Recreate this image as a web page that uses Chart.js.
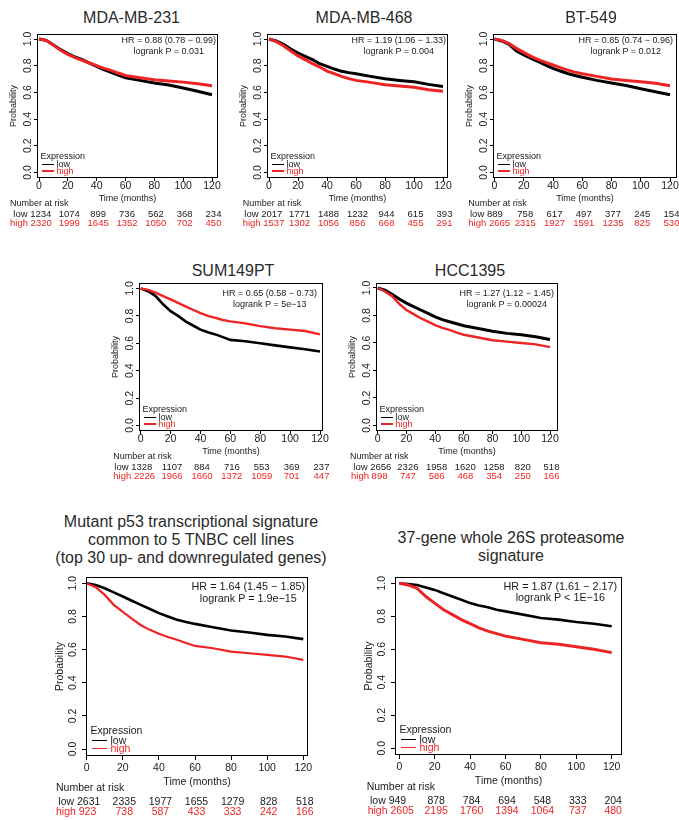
<!DOCTYPE html>
<html>
<head>
<meta charset="utf-8">
<script src="https://cdn.jsdelivr.net/npm/chart.js@4.4.0/dist/chart.umd.min.js"></script>
<style>
    body { margin: 0; background: #fff; }
    #fig { position: relative; width: 679px; height: 820px; overflow: hidden; font-family: "Liberation Sans", Arial, sans-serif; color: #1a1a1a; }
    #fig canvas { position: absolute; }
    .t { position: absolute; white-space: pre; }
    .hr { position: absolute; white-space: nowrap; text-align: center; transform: translateX(-100%); }
    .seg { position: absolute; }
</style>
</head>
<body>
<div id="fig"></div>
<script>
// 時間點 (月) 與刻度
const months = [0, 5, 10, 15, 20, 25, 30, 35, 40, 45, 50, 55, 60, 70, 80, 90, 100, 110, 120];
const xTicks = [0, 20, 40, 60, 80, 100, 120];
const yTicks = [0, 0.2, 0.4, 0.6, 0.8, 1.0];

// 存活曲線
const mda231Low  = [1.0, 0.99, 0.955, 0.92, 0.89, 0.865, 0.845, 0.82, 0.795, 0.77, 0.75, 0.73, 0.71, 0.69, 0.67, 0.655, 0.633, 0.608, 0.583];
const mda231High = [1.0, 0.99, 0.955, 0.915, 0.885, 0.86, 0.84, 0.82, 0.80, 0.78, 0.765, 0.745, 0.727, 0.71, 0.695, 0.685, 0.677, 0.665, 0.65];
const mda468Low  = [1.0, 0.985, 0.96, 0.925, 0.895, 0.87, 0.845, 0.815, 0.795, 0.775, 0.758, 0.748, 0.74, 0.72, 0.702, 0.69, 0.68, 0.66, 0.645];
const mda468High = [1.0, 0.98, 0.95, 0.91, 0.873, 0.845, 0.815, 0.79, 0.76, 0.74, 0.72, 0.703, 0.69, 0.675, 0.658, 0.648, 0.638, 0.62, 0.608];
const bt549Low   = [1.0, 0.985, 0.96, 0.91, 0.88, 0.855, 0.83, 0.805, 0.78, 0.76, 0.742, 0.727, 0.713, 0.69, 0.67, 0.652, 0.627, 0.605, 0.583];
const bt549High  = [1.0, 0.99, 0.965, 0.93, 0.90, 0.87, 0.845, 0.825, 0.805, 0.785, 0.767, 0.752, 0.74, 0.72, 0.70, 0.69, 0.68, 0.668, 0.65];
const sum149Low  = [1.0, 0.98, 0.945, 0.885, 0.835, 0.80, 0.76, 0.73, 0.70, 0.68, 0.665, 0.645, 0.625, 0.615, 0.60, 0.585, 0.57, 0.557, 0.54];
const sum149High = [1.0, 0.99, 0.97, 0.945, 0.92, 0.895, 0.87, 0.845, 0.82, 0.80, 0.785, 0.77, 0.76, 0.745, 0.725, 0.71, 0.70, 0.69, 0.665];
const hcc1395Low  = [1.0, 0.985, 0.955, 0.92, 0.89, 0.865, 0.84, 0.815, 0.79, 0.77, 0.755, 0.74, 0.725, 0.705, 0.685, 0.67, 0.66, 0.645, 0.625];
const hcc1395High = [1.0, 0.975, 0.94, 0.885, 0.84, 0.81, 0.78, 0.755, 0.73, 0.71, 0.695, 0.675, 0.66, 0.64, 0.62, 0.61, 0.60, 0.59, 0.57];
const p53Low  = [1.0, 0.99, 0.97, 0.945, 0.92, 0.895, 0.87, 0.845, 0.82, 0.80, 0.78, 0.767, 0.755, 0.735, 0.715, 0.703, 0.689, 0.679, 0.663];
const p53High = [1.0, 0.976, 0.93, 0.87, 0.827, 0.787, 0.747, 0.719, 0.695, 0.676, 0.659, 0.64, 0.622, 0.608, 0.588, 0.578, 0.568, 0.558, 0.538];
const prot26Low  = [1.0, 0.995, 0.99, 0.975, 0.96, 0.94, 0.92, 0.90, 0.88, 0.865, 0.855, 0.84, 0.83, 0.81, 0.79, 0.78, 0.765, 0.755, 0.74];
const prot26High = [1.0, 0.99, 0.97, 0.92, 0.88, 0.84, 0.81, 0.78, 0.755, 0.73, 0.71, 0.695, 0.68, 0.66, 0.64, 0.63, 0.615, 0.60, 0.58];

// 風險人數
const mda231RiskLow  = [1234, 1074, 899, 736, 562, 368, 234];
const mda231RiskHigh = [2320, 1999, 1645, 1352, 1050, 702, 450];
const mda468RiskLow  = [2017, 1771, 1488, 1232, 944, 615, 393];
const mda468RiskHigh = [1537, 1302, 1056, 856, 668, 455, 291];
const bt549RiskLow   = [889, 758, 617, 497, 377, 245, 154];
const bt549RiskHigh  = [2665, 2315, 1927, 1591, 1235, 825, 530];
const sum149RiskLow  = [1328, 1107, 884, 716, 553, 369, 237];
const sum149RiskHigh = [2226, 1966, 1660, 1372, 1059, 701, 447];
const hcc1395RiskLow  = [2656, 2326, 1958, 1620, 1258, 820, 518];
const hcc1395RiskHigh = [898, 747, 586, 468, 354, 250, 166];
const p53RiskLow  = [2631, 2335, 1977, 1655, 1279, 828, 518];
const p53RiskHigh = [923, 738, 587, 433, 333, 242, 166];
const prot26RiskLow  = [949, 878, 784, 694, 548, 333, 204];
const prot26RiskHigh = [2605, 2195, 1760, 1394, 1064, 737, 480];

// 標題與統計
const titles = [
    ['MDA-MB-231'], ['MDA-MB-468'], ['BT-549'], ['SUM149PT'], ['HCC1395'],
    ['Mutant p53 transcriptional signature', 'common to 5 TNBC cell lines', '(top 30 up- and downregulated genes)'],
    ['37-gene whole 26S proteasome', 'signature']
];
const hrTexts = [
    'HR = 0.88 (0.78 \u2212 0.99)', 'HR = 1.19 (1.06 \u2212 1.33)', 'HR = 0.85 (0.74 \u2212 0.96)',
    'HR = 0.65 (0.58 \u2212 0.73)', 'HR = 1.27 (1.12 \u2212 1.45)',
    'HR = 1.64 (1.45 \u2212 1.85)', 'HR = 1.87 (1.61 \u2212 2.17)'
];
const pTexts = [
    'logrank P = 0.031', 'logrank P = 0.004', 'logrank P = 0.012',
    'logrank P = 5e\u221213', 'logrank P = 0.00024',
    'logrank P = 1.9e\u221215', 'logrank P < 1E\u221216'
];

const RED = '#ee2424';
const INK = '#1a1a1a';
const FONT = '"Liberation Sans", Arial, sans-serif';

// 版面 (每列共用)
const rowStyles = {
    s: { tickF: 10.5, f: 9, riskF: 9.5, hrF: 9, tl: 3, tpad: -1, wy: 28, hx: 26, pt: 0.5, pb: 1, hrGap: 11,
         narDy: 25.5, lowDy: 35.5, highDy: 44.8,
         leg: { ex: 3.5, ey: 21.5, l1: 5, l2: 16.5, tx: 19.5, lowDy: 13.5, highDy: 7, lw: 1.6 },
         titleF: 16 },
    b: { tickF: 10.5, f: 10.5, riskF: 10.5, hrF: 10.8, tl: 4, tpad: 2, wy: 32, hx: 32, pt: 0.75, pb: 0.75, hrGap: 11.8,
         narDy: 31.7, lowDy: 45, highDy: 55.3,
         leg: { ex: 4.5, ey: 25.7, l1: 6, l2: 21, tx: 24.5, lowDy: 15.7, highDy: 7.7, lw: 1.6 },
         titleF: 16 }
};

// 每個面板的位置
const panels = [
    { low: mda231Low, high: mda231High, rl: mda231RiskLow, rh: mda231RiskHigh, row: 's',
      L: 37, R: 218, x0: 39, x120: 212, y1: 39, y0: 172.5, tx: 131.5, ty: [17.5], hrR: 216, hrY: 40,
      nar: [10, 13.3, 10], lw: [3, 3] },
    { low: mda468Low, high: mda468High, rl: mda468RiskLow, rh: mda468RiskHigh, row: 's',
      L: 267, R: 448, x0: 269, x120: 443, y1: 39, y0: 172.5, tx: 364, ty: [17.5], hrR: 446, hrY: 40,
      nar: [242.7, 244.3, 242.7], lw: [3, 3] },
    { low: bt549Low, high: bt549High, rl: bt549RiskLow, rh: bt549RiskHigh, row: 's',
      L: 493, R: 677, x0: 494.5, x120: 670, y1: 39, y0: 172.5, tx: 591, ty: [17.5], hrR: 673, hrY: 40,
      nar: [468.3, 470, 468.3], lw: [3, 3] },
    { low: sum149Low, high: sum149High, rl: sum149RiskLow, rh: sum149RiskHigh, row: 's',
      L: 139, R: 323, x0: 140.7, x120: 320, y1: 288.5, y0: 425.5, tx: 233, ty: [270.5], hrR: 317, hrY: 293.3,
      nar: [113.3, 114.3, 113.3], lw: [2.6, 2.4] },
    { low: hcc1395Low, high: hcc1395High, rl: hcc1395RiskLow, rh: hcc1395RiskHigh, row: 's',
      L: 376, R: 558, x0: 377.7, x120: 550, y1: 288, y0: 425.5, tx: 470, ty: [270.5], hrR: 554, hrY: 293.3,
      nar: [350, 353.3, 351], lw: [3, 2.4] },
    { low: p53Low, high: p53High, rl: p53RiskLow, rh: p53RiskHigh, row: 'b',
      L: 86, R: 308, x0: 86.7, x120: 303.3, y1: 583.3, y0: 749, tx: 191, ty: [521.7, 540, 558.3], hrR: 305, hrY: 586.7,
      nar: [56, 58.3, 56], lw: [2.6, 2.2] },
    { low: prot26Low, high: prot26High, rl: prot26RiskLow, rh: prot26RiskHigh, row: 'b',
      L: 395, R: 622, x0: 399.3, x120: 611.7, y1: 583.3, y0: 748.3, tx: 511, ty: [537.5, 555.8], hrR: 617, hrY: 586.5,
      nar: [366.7, 370, 367.7], lw: [2.6, 3] }
];

const fig = document.getElementById('fig');

function addText(x, cy, str, size, align, color) {
    const d = document.createElement('div');
    d.className = 't';
    d.textContent = str;
    d.style.left = x + 'px';
    d.style.top = (cy - size / 2) + 'px';
    d.style.fontSize = size + 'px';
    d.style.lineHeight = size + 'px';
    d.style.color = color || INK;
    if (align === 'center') d.style.transform = 'translateX(-50%)';
    if (align === 'right') d.style.transform = 'translateX(-100%)';
    fig.appendChild(d);
    return d;
}

function addSeg(x1, x2, y, w, color) {
    const d = document.createElement('div');
    d.className = 'seg';
    d.style.left = x1 + 'px';
    d.style.width = (x2 - x1) + 'px';
    d.style.top = (y - w / 2) + 'px';
    d.style.height = w + 'px';
    d.style.background = color;
    fig.appendChild(d);
}

// 外框
const boxPlugin = {
    id: 'box',
    afterDraw(chart) {
        const a = chart.chartArea;
        const ctx = chart.ctx;
        ctx.save();
        ctx.strokeStyle = '#000';
        ctx.lineWidth = 1;
        ctx.strokeRect(Math.round(a.left) + 0.5, Math.round(a.top) + 0.5,
                       Math.round(a.right - a.left) - 1, Math.round(a.bottom - a.top) - 1);
        ctx.restore();
    }
};

panels.forEach((p, idx) => {
    const st = rowStyles[p.row];
    const span = p.y0 - p.y1;
    const T = Math.round(p.y1 - 0.04 * span);
    const B = Math.round(p.y0 + 0.04 * span);
    const ppm = (p.x120 - p.x0) / 120;
    const xmin = -(p.x0 - p.L) / ppm;
    const xmax = 120 + (p.R - p.x120) / ppm;
    const ymin = -(B - p.y0) / span;
    const ymax = 1 + (p.y1 - T) / span;
    const padT = 3, padR = 10;

    const canvas = document.createElement('canvas');
    const cw = (p.R - p.L) + st.wy + padR;
    const ch = (B - T) + padT + st.hx;
    canvas.width = cw;
    canvas.height = ch;
    canvas.style.left = (p.L - st.wy) + 'px';
    canvas.style.top = (T - padT) + 'px';
    canvas.style.width = cw + 'px';
    canvas.style.height = ch + 'px';
    fig.appendChild(canvas);

    const toPts = arr => months.map((m, i) => ({ x: m, y: arr[i] }));

    new Chart(canvas, {
        type: 'line',
        data: {
            datasets: [
                { data: toPts(p.high), borderColor: RED, borderWidth: p.lw[1], pointRadius: 0, tension: 0, fill: false },
                { data: toPts(p.low), borderColor: '#000', borderWidth: p.lw[0], pointRadius: 0, tension: 0, fill: false }
            ]
        },
        options: {
            responsive: false,
            animation: false,
            devicePixelRatio: 1,
            layout: { padding: { top: padT, right: padR, left: 0, bottom: 0 } },
            plugins: { legend: { display: false }, tooltip: { enabled: false }, title: { display: false } },
            scales: {
                x: {
                    type: 'linear', min: xmin, max: xmax,
                    afterBuildTicks: s => { s.ticks = xTicks.map(v => ({ value: v })); },
                    ticks: { autoSkip: false, minRotation: 0, maxRotation: 0, padding: st.tpad, color: INK,
                             font: { family: FONT, size: st.tickF }, callback: v => String(v) },
                    grid: { display: true, drawOnChartArea: false, drawTicks: true, tickLength: st.tl, color: '#000', lineWidth: 1 },
                    border: { display: false },
                    title: { display: true, text: 'Time (months)', color: INK,
                             font: { family: FONT, size: st.f, lineHeight: 1 }, padding: { top: 0, bottom: st.pb } },
                    afterFit: s => { s.height = st.hx; s.paddingLeft = 0; s.paddingRight = 0; }
                },
                y: {
                    type: 'linear', min: ymin, max: ymax,
                    afterBuildTicks: s => { s.ticks = yTicks.map(v => ({ value: v })); },
                    ticks: { autoSkip: false, minRotation: 90, maxRotation: 90, crossAlign: 'center', padding: st.tpad,
                             color: INK, font: { family: FONT, size: st.tickF }, callback: v => v.toFixed(1) },
                    grid: { display: true, drawOnChartArea: false, drawTicks: true, tickLength: st.tl, color: '#000', lineWidth: 1 },
                    border: { display: false },
                    title: { display: true, text: 'Probability', color: INK,
                             font: { family: FONT, size: st.f, lineHeight: 1 }, padding: { top: st.pt, bottom: 0 } },
                    afterFit: s => { s.width = st.wy; s.paddingTop = 0; s.paddingBottom = 0; }
                }
            }
        },
        plugins: [boxPlugin]
    });

    // 標題
    titles[idx].forEach((line, k) => addText(p.tx, p.ty[k], line, st.titleF, 'center', '#2a2a2a'));

    // HR 與 logrank
    const hr = document.createElement('div');
    hr.className = 'hr';
    hr.style.left = p.hrR + 'px';
    hr.style.top = (p.hrY - st.hrGap / 2) + 'px';
    hr.style.fontSize = st.hrF + 'px';
    hr.style.lineHeight = st.hrGap + 'px';
    hr.innerHTML = hrTexts[idx] + '<br>' + pTexts[idx];
    fig.appendChild(hr);

    // 圖例
    const lg = st.leg;
    addText(p.L + lg.ex, B - lg.ey, 'Expression', st.f, 'left');
    addSeg(p.L + lg.l1, p.L + lg.l2, B - lg.lowDy, lg.lw, '#000');
    addText(p.L + lg.tx, B - lg.lowDy, 'low', st.f, 'left');
    addSeg(p.L + lg.l1, p.L + lg.l2, B - lg.highDy, lg.lw, RED);
    addText(p.L + lg.tx, B - lg.highDy, 'high', st.f, 'left', RED);

    // 風險表: 第一欄緊接在組別名稱之後, 其餘置中於刻度
    addText(p.nar[0], B + st.narDy, 'Number at risk', st.f, 'left');
    addText(p.nar[1], B + st.lowDy, 'low ' + p.rl[0], st.riskF, 'left');
    addText(p.nar[2], B + st.highDy, 'high ' + p.rh[0], st.riskF, 'left', RED);
    xTicks.forEach((t, k) => {
        if (k === 0) return;
        const x = p.x0 + t * ppm + 1.5;
        addText(x, B + st.lowDy, String(p.rl[k]), st.riskF, 'center');
        addText(x, B + st.highDy, String(p.rh[k]), st.riskF, 'center', RED);
    });
});
</script>
</body>
</html>
